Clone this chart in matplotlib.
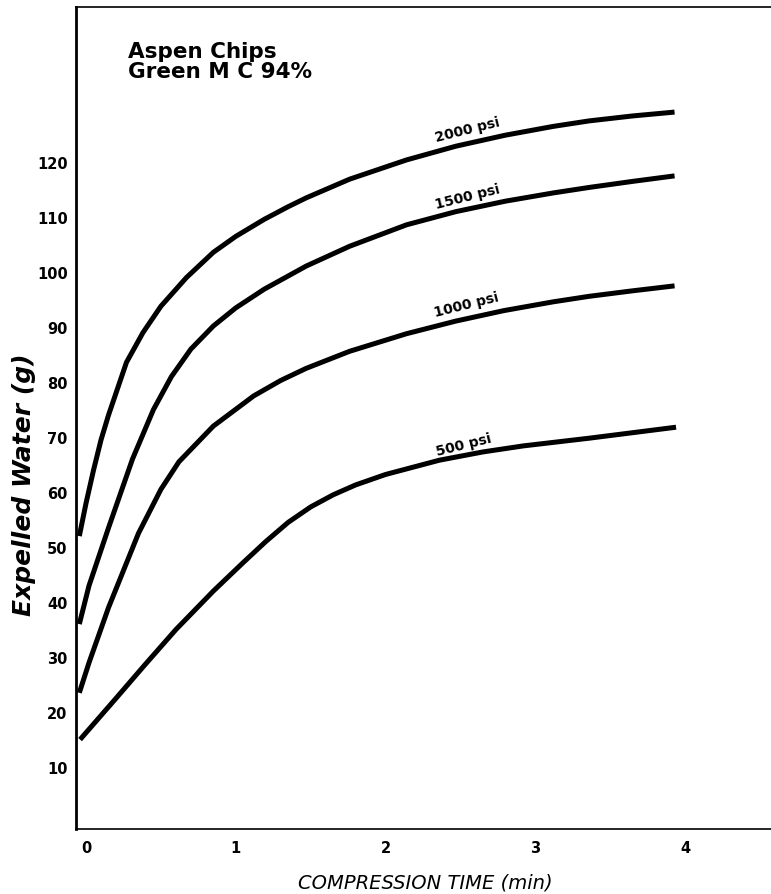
import matplotlib.pyplot as plt

plt.rcParams["font.family"] = ["DejaVu Sans"]

# compression time (min) vs expelled water (g)
t_2000 = [-0.045, 0.0, 0.05, 0.1, 0.15, 0.27, 0.38, 0.5, 0.67, 0.85, 1.0, 1.19, 1.35, 1.47,
          1.76, 2.14, 2.47, 2.8, 3.12, 3.36, 3.65, 3.93]
w_2000 = [52, 58, 64, 69.5, 74, 83.6, 89, 93.8, 99, 103.6, 106.5, 109.6, 111.9, 113.5,
          116.9, 120.4, 122.9, 124.9, 126.5, 127.5, 128.4, 129.1]

t_1500 = [-0.045, 0.02, 0.15, 0.31, 0.45, 0.57, 0.7, 0.85, 1.0, 1.19, 1.47, 1.76, 2.14,
          2.47, 2.8, 3.12, 3.36, 3.65, 3.93]
w_1500 = [36, 43, 53.5, 66, 75, 81, 86, 90.2, 93.5, 96.9, 101.1, 104.7, 108.6,
          111, 112.9, 114.4, 115.4, 116.5, 117.5]

t_1000 = [-0.045, 0.02, 0.15, 0.35, 0.5, 0.62, 0.85, 1.12, 1.3, 1.47, 1.76, 2.14, 2.47,
          2.79, 3.12, 3.36, 3.65, 3.93]
w_1000 = [23.5, 29, 39, 52.5, 60.5, 65.5, 72, 77.5, 80.3, 82.5, 85.6, 88.8, 91.1,
          93, 94.6, 95.6, 96.6, 97.5]

t_500 = [-0.04, 0.2, 0.39, 0.6, 0.85, 1.05, 1.2, 1.35, 1.5, 1.65, 1.8, 2.0, 2.36, 2.65,
         2.92, 3.36, 3.65, 3.94]
w_500 = [15, 22.5, 28.5, 35, 42, 47.2, 51, 54.5, 57.3, 59.5, 61.3, 63.2, 65.8, 67.3,
         68.4, 69.8, 70.8, 71.8]

curves = [
    (t_2000, w_2000, "2000 psi", (2.55, 126.0)),
    (t_1500, w_1500, "1500 psi", (2.55, 113.8)),
    (t_1000, w_1000, "1000 psi", (2.54, 94.2)),
    (t_500, w_500, "500 psi", (2.52, 68.7)),
]

y_ticks = [10, 20, 30, 40, 50, 60, 70, 80, 90, 100, 110, 120]
x_ticks = [0, 1, 2, 3, 4]

fig = plt.figure(figsize=(7.71, 8.95), dpi=100)
ax = fig.add_axes((0.0986, 0.0726, 0.9014, 0.9184))

for t, w, label, (lx, ly) in curves:
    ax.plot(t, w, color="black", lw=3.6, solid_capstyle="butt", solid_joinstyle="round")
    ax.text(lx, ly, label, fontsize=10, fontweight="bold", rotation=14,
            ha="center", va="center")

ax.set_xlim(-0.067, 4.574)
ax.set_ylim(-1.27, 148.2)
ax.set_xticks(x_ticks)
ax.set_yticks(y_ticks)
ax.tick_params(length=0, labelsize=10.5)
ax.tick_params(axis="y", pad=6)
ax.tick_params(axis="x", pad=8)
for lab in ax.get_xticklabels() + ax.get_yticklabels():
    lab.set_fontweight("bold")

ax.spines["right"].set_visible(False)
ax.spines["left"].set_linewidth(2.0)
ax.spines["top"].set_linewidth(1.2)
ax.spines["bottom"].set_linewidth(1.2)

fig.text(128 / 771, 1 - 42 / 895, "Aspen Chips\nGreen M C 94%", fontsize=15.5,
         fontweight="bold", ha="left", va="top", linespacing=0.98)
fig.text(24 / 771, 1 - 485 / 895, "Expelled Water (g)", fontsize=18,
         fontweight="bold", fontstyle="italic", rotation=90, ha="center", va="center")
fig.text(425 / 771, 1 - 883 / 895, "COMPRESSION TIME (min)", fontsize=14,
         fontstyle="italic", ha="center", va="center")

fig.savefig("out.png", dpi=100)
